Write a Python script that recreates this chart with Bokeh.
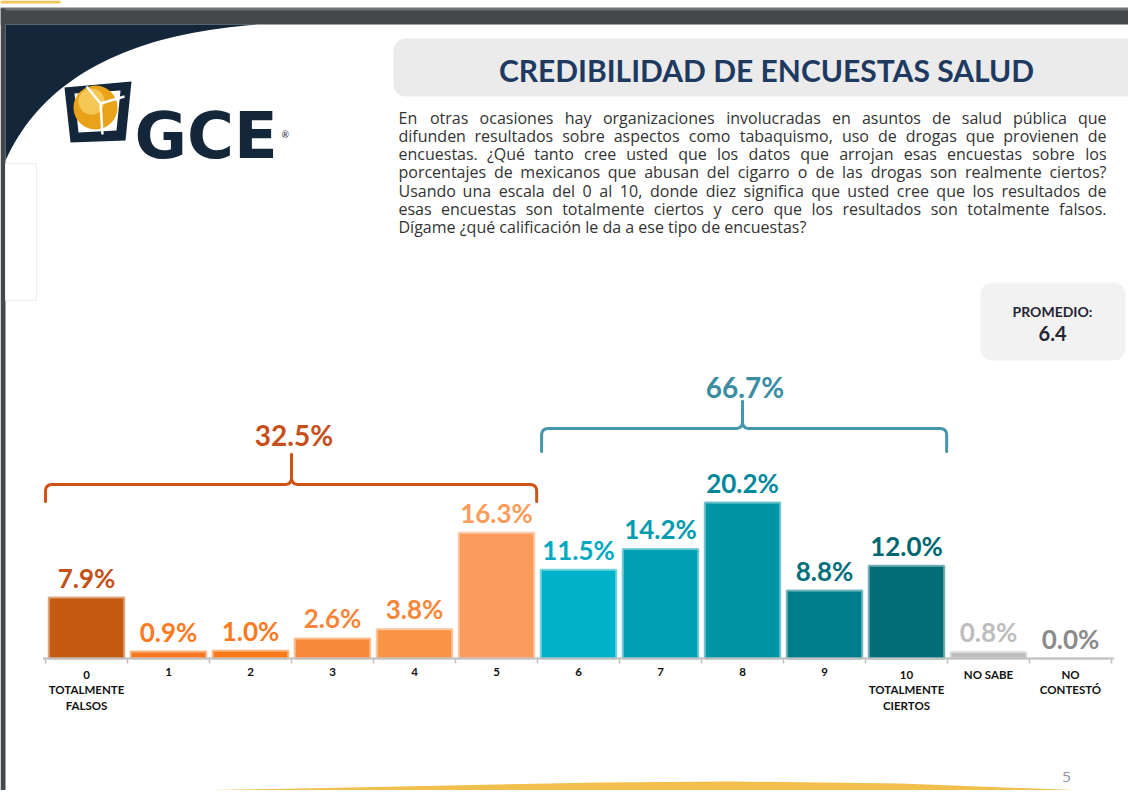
import unicodedata
from bokeh.plotting import figure
from bokeh.models import Range1d, ColumnDataSource
from bokeh.embed import file_html
from bokeh.resources import INLINE
from bokeh.core.properties import value

# ---------------- data ----------------
categories = ["0\nTOTALMENTE\nFALSOS", "1", "2", "3", "4", "5", "6", "7", "8", "9",
              "10\nTOTALMENTE\nCIERTOS", "NO SABE", "NO\nCONTESTÓ"]
percentages = [7.9, 0.9, 1.0, 2.6, 3.8, 16.3, 11.5, 14.2, 20.2, 8.8, 12.0, 0.8, 0.0]
bar_colors = ["#c55a11", "#f47920", "#fa7a18", "#f8883a", "#f99447", "#fb9b5c",
              "#00b2c9", "#00a0b3", "#0095a6", "#007d8a", "#006d77", "#bdbdbd", "#bdbdbd"]
label_colors = ["#c4501a", "#fb7a1f", "#fb7a1f", "#f5863a", "#f5863a", "#fb9b5c",
                "#00a9c2", "#009cae", "#00899a", "#006f7b", "#006670", "#bdbdbd", "#8a8a8a"]
group_totals = [32.5, 66.7]
group_first = [0, 6]
group_last = [5, 10]
promedio = 6.4
title_text = "CREDIBILIDAD DE ENCUESTAS SALUD"
question_lines = [
    "En otras ocasiones hay organizaciones involucradas en asuntos de salud pública que",
    "difunden resultados sobre aspectos como tabaquismo, uso de drogas que provienen de",
    "encuestas. ¿Qué tanto cree usted que los datos que arrojan esas encuestas sobre los",
    "porcentajes de  mexicanos que abusan del cigarro o de las drogas son realmente ciertos?",
    "Usando una escala del 0 al 10, donde diez significa que usted cree  que los resultados de",
    "esas encuestas son totalmente ciertos y cero que los resultados son totalmente falsos.",
    "Dígame ¿qué calificación le da a ese tipo de encuestas?",
]
page_number = "5"

# ---------------- layout constants ----------------
W, H = 1128, 790
BASE = 658              # px of the 0 % baseline
PPP = 7.72              # px per percent
X0 = 45                 # px of left category boundary
CW = 82                 # px per category

p = figure(width=W, height=H,
           x_range=Range1d(-X0 / CW, (W - X0) / CW),
           y_range=Range1d((BASE - H) / PPP, BASE / PPP),
           x_axis_type=None, y_axis_type=None,
           toolbar_location=None, output_backend="svg",
           min_border=0, outline_line_color=None,
           background_fill_color="white", border_fill_color="white")
p.grid.visible = False
p.extra_x_ranges = {"px": Range1d(0, W)}
p.extra_y_ranges = {"px": Range1d(H, 0)}
PX = dict(x_range_name="px", y_range_name="px")

# ---------------- slide decorations ----------------
p.quad(left=0, right=W, top=8, bottom=24, fill_color="#45484b", line_color=None, **PX)
p.quad(left=0, right=W, top=7, bottom=10, fill_color="#707376", line_color=None, **PX)
p.quad(left=0, right=60, top=0, bottom=3, fill_color="#f2c45a", line_color=None, **PX)
p.quad(left=0, right=5, top=8, bottom=H, fill_color="#45484b", line_color=None, **PX)

# navy curve top-left (quadratic bezier)
P0, P1, P2 = (258, 24), (60, 38), (5, 160)
cx, cy = [], []
for k in range(41):
    t = k / 40
    cx.append((1 - t) ** 2 * P0[0] + 2 * (1 - t) * t * P1[0] + t ** 2 * P2[0])
    cy.append((1 - t) ** 2 * P0[1] + 2 * (1 - t) * t * P1[1] + t ** 2 * P2[1])
p.patch(x=[5] + cx + [5], y=[24] + cy + [cy[-1]], fill_color="#13263a",
        line_color=None, **PX)

# faint box at left
p.quad(left=5, right=36, top=163, bottom=300, fill_color=None,
       line_color="#eeeeee", line_width=1, **PX)

# logo
p.patch(x=[64, 131, 125, 70], y=[87, 81, 140, 142],
        fill_color="#13263a", line_color=None, **PX)
p.patch(x=[74, 120, 116, 78], y=[93, 90, 130, 132],
        fill_color="white", line_color=None, **PX)
p.circle(x=[95], y=[107], radius=22, fill_color="#e9a31a", line_color=None, **PX)
p.circle(x=[91], y=[101], radius=13, fill_color="#f7cf62", line_color=None,
         fill_alpha=0.85, **PX)
p.line(x=[86, 100, 124], y=[86, 103, 96], line_color="white", line_width=2.5, **PX)
p.line(x=[100, 102], y=[103, 134], line_color="white", line_width=2.5, **PX)
p.text(x=[134], y=[135], text=["GCE"], text_font=value("DejaVu Sans"),
       text_font_style="bold", text_font_size="64px", text_color="#13263a",
       text_align="left", text_baseline="alphabetic", **PX)
p.text(x=[281], y=[134], text=["®"], text_font=value("Lato"),
       text_font_size="9px", text_color="#13263a", text_align="left",
       text_baseline="alphabetic", **PX)

# title box
p.quad(left=393, right=1150, top=38, bottom=96, border_radius=12,
       fill_color="#ebebeb", line_color=None, **PX)
p.text(x=[766], y=[69], text=[title_text], text_font=value("Lato"),
       text_font_style="bold", text_font_size="30px", text_color="#1f3a60",
       text_align="center", text_baseline="middle", **PX)

# question paragraph (justified by placing words)
def char_w(c):
    b = unicodedata.normalize("NFD", c)[0]
    if b in "ijl": return 0.25
    if b in "f": return 0.33
    if b in "t": return 0.35
    if b in "r": return 0.41
    if b in "sczx": return 0.48
    if b in "kvy": return 0.51
    if b in "aeg": return 0.556
    if b in "bdhnopqu": return 0.613
    if b == "m": return 0.93
    if b == "w": return 0.78
    if b == " ": return 0.26
    if b in ".,": return 0.27
    if b in "?¿": return 0.43
    if b.isdigit(): return 0.572
    if b.isupper(): return 0.66
    return 0.55

FS = 16
PL, PR = 398, 1106
wx, wy, wt, wa = [], [], [], []
for li, line in enumerate(question_lines):
    ly = 117 + li * 18.3
    if li == len(question_lines) - 1:
        wx.append(PL); wy.append(ly); wt.append(line); wa.append("left")
        continue
    words = line.split()
    widths = [sum(char_w(c) for c in w) * FS for w in words]
    gap = (PR - PL - sum(widths)) / (len(words) - 1)
    pos = PL
    for k, (w, ww) in enumerate(zip(words, widths)):
        if k == 0:
            wx.append(PL); wa.append("left")
        elif k == len(words) - 1:
            wx.append(PR); wa.append("right")
        else:
            wx.append(pos + ww / 2); wa.append("center")
        wy.append(ly); wt.append(w)
        pos += ww + gap
p.text(x=wx, y=wy, text=wt, text_align=wa, text_font=value("Open Sans"),
       text_font_size=f"{FS}px", text_color="#333333", text_baseline="middle", **PX)

# promedio box
p.quad(left=980, right=1125, top=282, bottom=360, border_radius=12,
       fill_color="#f2f2f2", line_color=None, **PX)
p.text(x=[1052], y=[311], text=["PROMEDIO:"], text_font=value("Lato"),
       text_font_style="bold", text_font_size="14px", text_color="#262633",
       text_align="center", text_baseline="middle", **PX)
p.text(x=[1052], y=[333], text=[f"{promedio:.1f}"], text_font=value("Lato"),
       text_font_style="bold", text_font_size="20px", text_color="#262633",
       text_align="center", text_baseline="middle", **PX)

# bottom gold swoosh
sx = [0, 300, 600, 730, 900, 1140, 1140, 900, 800, 650, 511, 0]
sy = [793, 788, 782, 781, 783, 792, 801, 795, 793, 797, 802, 802]
p.patch(x=sx, y=sy, fill_color="#f0bf4c", line_color=None, **PX)
p.text(x=[1066], y=[776], text=[page_number], text_font=value("Open Sans"),
       text_font_size="15px", text_color="#8c96a0", text_align="center",
       text_baseline="middle", **PX)

# ---------------- bars ----------------
def tint(hx, f):
    r, g, b = int(hx[1:3], 16), int(hx[3:5], 16), int(hx[5:7], 16)
    r, g, b = [int(c + (255 - c) * f) for c in (r, g, b)]
    return "#%02x%02x%02x" % (r, g, b)

LABEL_GAP = 20 / PPP
n = len(categories)
src = ColumnDataSource(dict(
    x=[i + 0.5 for i in range(n)],
    top=percentages,
    ly=[v + LABEL_GAP for v in percentages],
    color=bar_colors,
    edge=[tint(c, 0.45) for c in bar_colors],
    lab=[f"{v:.1f}%" for v in percentages],
    lc=label_colors,
))
p.vbar(x="x", top="top", bottom=0, width=0.92, fill_color="color", line_color="edge",
       line_width=2, source=src)
p.text(x="x", y="ly", text="lab", text_color="lc", text_font=value("Lato"),
       text_font_style="bold", text_font_size="26px", text_align="center",
       text_baseline="middle", source=src)

# baseline axis and ticks
p.segment(x0=[-0.03], y0=[0], x1=[n + 0.03], y1=[0], line_color="#bfbfbf", line_width=2)
p.segment(x0=list(range(n + 1)), x1=list(range(n + 1)), y0=[BASE] * (n + 1),
          y1=[BASE + 5] * (n + 1), line_color="#bfbfbf", line_width=1.5,
          y_range_name="px")
p.text(x=[i + 0.5 for i in range(n)], y=[BASE + 9] * n, text=categories,
       text_font=value("Lato"), text_font_style="bold", text_font_size="11.5px",
       text_color="#111111", text_align="center", text_baseline="top",
       text_line_height=1.22, y_range_name="px")

# ---------------- group braces ----------------
brace_colors = ["#cf5216", "#4496ab"]
brace_label_colors = ["#c64f1c", "#3b8ea2"]
brace_inset = [0.0, 0.05]
brace_bar_y = [484, 428]
brace_end_y = [501, 451]
brace_peak_y = [454, 401]
brace_label_y = [434, 386]

def qcurve(a, c, b, steps=8):
    pts = []
    for k in range(1, steps + 1):
        t = k / steps
        pts.append(((1 - t) ** 2 * a[0] + 2 * (1 - t) * t * c[0] + t ** 2 * b[0],
                    (1 - t) ** 2 * a[1] + 2 * (1 - t) * t * c[1] + t ** 2 * b[1]))
    return pts

bxs, bys = [], []
for g in range(len(group_totals)):
    x0 = group_first[g] + brace_inset[g]
    x1 = group_last[g] + 1 - 0.01
    xm = (group_first[g] + group_last[g] + 1) / 2
    yb, ye, yp = brace_bar_y[g], brace_end_y[g], brace_peak_y[g]
    rx, ry = 7 / CW, 7
    for side in (-1, 1):
        xe = x0 if side == -1 else x1
        s = -side
        pts = [(xe, ye), (xe, yb + ry)]
        pts += qcurve((xe, yb + ry), (xe, yb), (xe + s * rx, yb))
        pts.append((xm - s * rx, yb))
        pts += qcurve((xm - s * rx, yb), (xm, yb), (xm, yb - ry))
        pts.append((xm, yp))
        bxs.append([q[0] for q in pts]); bys.append([q[1] for q in pts])
    p.text(x=[xm + 0.03], y=[brace_label_y[g]], text=[f"{group_totals[g]:.1f}%"],
           text_font=value("Lato"), text_font_style="bold", text_font_size="28px",
           text_color=brace_label_colors[g], text_align="center", text_baseline="middle",
           y_range_name="px")
p.multi_line(xs=bxs, ys=bys, line_color=[brace_colors[0]] * 2 + [brace_colors[1]] * 2,
             line_width=3, line_join="round", line_cap="round", y_range_name="px")

open("out.html", "w").write(file_html(p, INLINE))
